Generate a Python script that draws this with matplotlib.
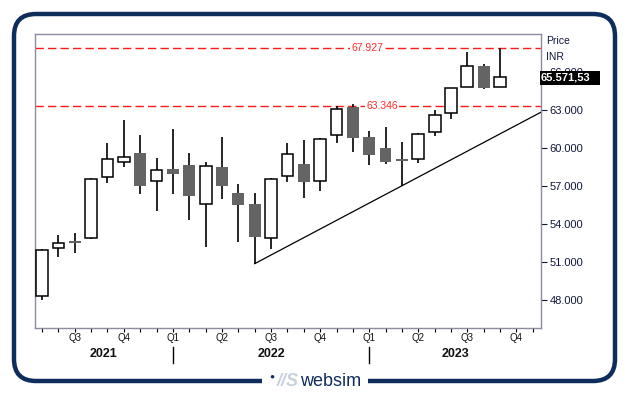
import matplotlib
matplotlib.use("Agg")
import matplotlib.pyplot as plt
from matplotlib.patches import Rectangle, FancyBboxPatch
from matplotlib.lines import Line2D

plt.rcParams['font.family'] = ['Liberation Sans', 'DejaVu Sans']

# ---- data (monthly candles, May 2021 .. Sep 2023) ----
opens  = [48.34, 52.08, 52.62, 52.87, 57.73, 58.87, 59.58, 57.37, 58.34, 58.66, 55.60, 58.50, 56.45, 55.58,
          52.87, 57.76, 58.74, 57.37, 61.00, 63.26, 60.84, 60.00, 59.15, 59.13, 61.24, 62.74, 64.82, 66.50, 64.79]
closes = [51.95, 52.47, 52.50, 57.53, 59.11, 59.27, 57.02, 58.24, 57.97, 56.24, 58.55, 57.02, 55.53, 53.00,
          57.53, 59.50, 57.34, 60.68, 63.05, 60.82, 59.47, 58.92, 58.95, 61.08, 62.58, 64.71, 66.45, 64.76, 65.57]
highs  = [52.03, 53.13, 53.26, 57.60, 60.37, 62.21, 61.03, 59.19, 61.50, 59.61, 58.89, 60.87, 57.16, 56.45,
          57.60, 60.39, 60.63, 60.76, 63.32, 63.45, 61.34, 61.66, 60.45, 61.18, 63.00, 64.73, 67.58, 66.66, 67.927]
lows   = [48.00, 51.42, 51.74, 52.79, 57.21, 58.52, 56.34, 55.05, 56.39, 54.34, 52.21, 56.00, 52.58, 50.87,
          52.05, 57.34, 56.08, 56.63, 60.37, 59.71, 58.68, 58.76, 57.02, 58.79, 60.97, 62.31, 64.82, 64.66, 64.79]

quarter_ticks = [2, 5, 8, 11, 14, 17, 20, 23, 26, 29]
quarter_labels = ['Q3', 'Q4', 'Q1', 'Q2', 'Q3', 'Q4', 'Q1', 'Q2', 'Q3', 'Q4']
n_month_ticks = 31
years = ['2021', '2022', '2023']
year_breaks = [8, 20]
y_ticks = [48, 51, 54, 57, 60, 63, 66]
levels = [67.927, 63.346]
level_labels = ['67.927', '63.346']
level_label_x = [19.9, 20.8]
trend_from, trend_to = 13, 22
last_label = '65.571,53'

W, H = 629, 395
fig = plt.figure(figsize=(W / 100, H / 100), dpi=100)
fig.patch.set_facecolor('white')

def fx(px):
    return px / W

def fy(py):
    return 1 - py / H

ax = fig.add_axes([fx(35), fy(328), fx(541) - fx(35), fy(34) - fy(328)])
xmin, xmax = -0.43, 30.5
ax.set_xlim(xmin, xmax)
ax.set_ylim(45.79, 69.0)

navy = '#0e2c5c'
gray_body = '#646464'
bw = 0.72

for i, (o, c, h, l) in enumerate(zip(opens, closes, highs, lows)):
    ax.vlines(i, l, h, color='black', lw=1.2, zorder=2)
    lo, hi = min(o, c), max(o, c)
    ht = max(hi - lo, 0.16)
    if c >= o:
        r = Rectangle((i - bw / 2, lo), bw, ht, facecolor='white', edgecolor='black', lw=1.1, zorder=3)
    else:
        r = Rectangle((i - bw / 2, lo), bw, ht, facecolor=gray_body, edgecolor='none', zorder=3)
    ax.add_patch(r)

# trendline through two lows, extended to right edge
x0, y0 = trend_from, lows[trend_from]
x1, y1 = trend_to, lows[trend_to]
slope = (y1 - y0) / (x1 - x0)
ax.plot([x0, xmax], [y0, y0 + slope * (xmax - x0)], color='black', lw=0.9, zorder=4)

# horizontal levels
for lv, lab, lx in zip(levels, level_labels, level_label_x):
    ax.axhline(lv, color='#ff1a1a', lw=1.0, ls=(0, (6, 3)), zorder=1)
    ax.text(lx, lv, lab, color='#ff2a2a', fontsize=7.5, ha='center', va='center',
            bbox=dict(facecolor='white', edgecolor='none', pad=1.0), zorder=5)

# spines
for s in ax.spines.values():
    s.set_color('#8c8ca0')
    s.set_linewidth(1.0)

# y axis on the right
ax.yaxis.tick_right()
ax.set_yticks(y_ticks)
ax.set_yticklabels([f'{v:.3f}' for v in y_ticks], fontsize=8, color='#10163a')
ax.tick_params(axis='y', direction='out', length=4, width=0.8, color='#10163a', pad=2)

# x axis month ticks
ax.set_xticks(range(n_month_ticks))
ax.set_xticklabels([''] * n_month_ticks)
ax.tick_params(axis='x', direction='out', length=3, width=0.8, color='black')
for t, lab in zip(quarter_ticks, quarter_labels):
    ax.text(t, -0.035, lab, transform=ax.get_xaxis_transform(), fontsize=7, ha='center', va='center',
            color='#111111')

# years and separators
bounds = [xmin] + year_breaks + [xmax]
for k, yr in enumerate(years):
    ax.text((bounds[k] + bounds[k + 1]) / 2, -0.088, yr, transform=ax.get_xaxis_transform(),
            fontsize=9, fontweight='bold', ha='center', va='center', color='#111111')
for b in year_breaks:
    ax.plot([b, b], [-0.065, -0.118], transform=ax.get_xaxis_transform(), color='black', lw=1.0,
            clip_on=False)

# Price / INR header
fig.text(fx(546), fy(41), 'Price', fontsize=7.5, ha='left', va='center', color='#10163a')
fig.text(fx(546), fy(57), 'INR', fontsize=7.5, ha='left', va='center', color='#10163a')

# last price box
fig.patches.append(Rectangle((fx(540), fy(85)), fx(600) - fx(540), fy(71) - fy(85),
                             transform=fig.transFigure, facecolor='black', edgecolor='none', zorder=10))
fig.text(fx(541), fy(78), last_label, fontsize=8, fontweight='bold', color='white', ha='left', va='center',
         zorder=11)

# outer rounded frame
frame = FancyBboxPatch((fx(14), fy(381)), fx(615) - fx(14), fy(14) - fy(381),
                       boxstyle='round,pad=0,rounding_size=0.035', transform=fig.transFigure,
                       facecolor='none', edgecolor=navy, lw=3.2, zorder=0, mutation_aspect=W / H)
fig.patches.append(frame)
# gap for logo
fig.patches.append(Rectangle((fx(262), fy(390)), fx(368) - fx(262), fy(372) - fy(390),
                             transform=fig.transFigure, facecolor='white', edgecolor='none', zorder=1))
fig.text(fx(272), fy(377), '\u25CF', fontsize=6, color=navy, ha='center', va='center', zorder=2)
fig.text(fx(277), fy(382), '//S', fontsize=13, fontstyle='italic', fontweight='bold', color='#c8d2de',
         ha='left', va='center', zorder=2)
fig.text(fx(300), fy(382), 'websim', fontsize=13, color=navy, ha='left', va='center', zorder=2)

fig.savefig('out.png', dpi=100)
